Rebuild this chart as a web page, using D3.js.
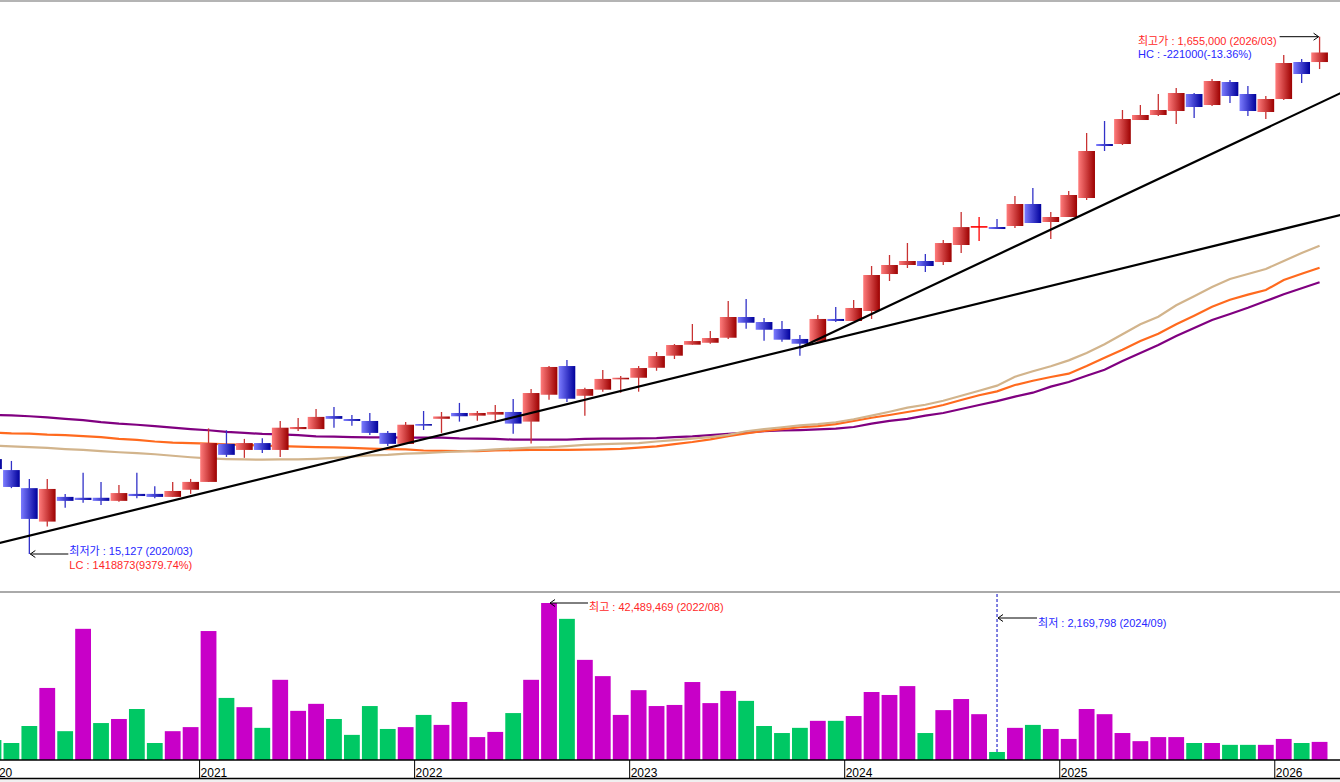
<!DOCTYPE html>
<html>
<head>
<meta charset="utf-8">
<script src="https://cdn.jsdelivr.net/npm/d3@7"></script>
<style>
	body { margin: 0; background: #ffffff; }
	svg { display: block; font-family: "Liberation Sans", "Noto Sans CJK KR", sans-serif; }
</style>
</head>
<body>
<svg id="chart" width="1340" height="782"></svg>
<script>

// monthly candles, 2020/01 - 2026/03
var startYear = 2020;
var nMonths = 75;

var open = [
	35800, 32400, 27500, 20300, 25400, 25200, 25200, 24500, 26100, 26100, 25400, 27100,
	29100, 41100, 38900, 41400, 38900, 47000, 47000, 52900, 51500, 50600, 45400, 41100,
	49200, 51600, 54400, 53100, 53600, 54900, 50300, 64200, 83300, 63600, 67200, 74100,
	74900, 82000, 91500, 101100, 102900, 107700, 130000, 124200, 116600, 106500, 103900, 127700,
	125400, 137300, 192000, 208400, 216100, 214100, 249900, 294500, 294200, 296900, 362500, 307900,
	322200, 382800, 624900, 624900, 777000, 813100, 843100, 983800, 890300, 1097000, 983800, 835500,
	940200, 1315300, 1315000];

var high = [
	38200, 35200, 29900, 29900, 26100, 31600, 29100, 28300, 31600, 28000, 29100, 29900,
	47300, 46500, 43000, 43300, 50600, 52000, 56400, 57400, 53400, 54400, 46200, 50100,
	55400, 54900, 59600, 55400, 58500, 61800, 67600, 83300, 88000, 68400, 80400, 76100,
	83300, 94600, 101700, 122000, 114500, 150300, 153100, 128800, 125400, 110400, 132400, 142300,
	151700, 206500, 228200, 254400, 230300, 261500, 337100, 322200, 316400, 389800, 419200, 337100,
	407900, 690500, 770000, 850800, 890300, 983800, 1038900, 992800, 1127300, 1117100, 1057900, 966100,
	1401600, 1351600, 1655000];

var low = [
	31800, 27500, 15127, 19400, 23000, 24100, 23600, 24300, 25100, 25100, 25400, 26100,
	29100, 36500, 36200, 37800, 36500, 46200, 47000, 47600, 48500, 44500, 40300, 41100,
	46600, 45400, 50300, 50700, 50700, 45100, 41200, 61400, 60100, 53100, 66000, 65400,
	66000, 79800, 88800, 101100, 102000, 106500, 116900, 104800, 103900, 91500, 103900, 124200,
	125400, 127700, 180200, 202800, 195600, 208400, 232400, 259100, 288900, 291600, 305100, 263900,
	322200, 375900, 586500, 619300, 777000, 805700, 749300, 791200, 882300, 906600, 805700, 784100,
	931700, 1087100, 1234000];

var close = [
	32700, 27800, 20800, 27300, 24500, 24700, 24500, 26300, 25600, 25400, 26800, 29100,
	41400, 37200, 41400, 38900, 47600, 47900, 52500, 51600, 50600, 45400, 41100, 48900,
	48500, 52700, 52800, 54400, 54900, 49400, 65200, 82600, 61900, 67600, 74100, 74900,
	81800, 91200, 100800, 104500, 107400, 130000, 123400, 115800, 105800, 102000, 127700, 125400,
	141100, 190300, 208400, 216100, 206500, 254400, 294000, 294500, 288900, 362500, 305100, 322200,
	393400, 586500, 613700, 784100, 813100, 850800, 992800, 874300, 1107000, 966100, 843100, 940200,
	1303500, 1179600, 1434000];

var volume = [
	5400000, 4600000, 9200000, 19500000, 7800000, 35500000, 10000000, 11100000, 13800000, 4600000, 7800000, 8900000,
	34900000, 16800000, 14300000, 8700000, 21700000, 13300000, 15200000, 11100000, 6800000, 14600000, 8400000, 8900000,
	12200000, 9500000, 15700000, 6200000, 7600000, 12700000, 21700000, 42489469, 38200000, 27100000, 22700000, 12200000,
	18900000, 14600000, 14900000, 21100000, 15400000, 18700000, 16000000, 9200000, 7300000, 8700000, 10600000, 10600000,
	11900000, 18400000, 17600000, 20000000, 7300000, 13500000, 16500000, 12400000, 2169798, 8700000, 9500000, 8400000,
	5700000, 13800000, 12400000, 7300000, 5100000, 6200000, 6200000, 4600000, 4600000, 4100000, 4100000, 4100000,
	5700000, 4600000, 4900000];

// moving averages (long / middle / short)
var maLong = [
	53400, 53200, 52800, 52300, 51600, 51000, 50100, 49400, 48900, 48300, 47600, 47000,
	46500, 45800, 45400, 45000, 44800, 44500, 44000, 43900, 43700, 43600, 43600, 43500,
	43500, 43500, 43200, 43100, 43000, 42700, 42700, 42700, 42700, 43000, 43100, 43100,
	43200, 43300, 43700, 44000, 44500, 45000, 45500, 46100, 46400, 46600, 46900, 47200,
	47900, 49400, 50600, 51600, 53100, 54400, 56400, 58500, 60600, 63100, 65400, 69100,
	72100, 76300, 80600, 87200, 93800, 100800, 109400, 117600, 126500, 133600, 141400, 150300,
	159700, 168700, 178100];

var maMid = [
	45600, 45200, 45100, 44700, 44500, 44100, 43700, 43000, 42600, 42000, 41600, 41400,
	41200, 40900, 40700, 40500, 40300, 40100, 39900, 39800, 39600, 39400, 39200, 39100,
	38700, 38600, 38500, 38500, 38700, 38800, 38900, 38900, 38900, 39000, 39100, 39300,
	39700, 40200, 41000, 41800, 42800, 44100, 45200, 46200, 47000, 47800, 48300, 49200,
	50600, 52100, 53400, 54900, 56400, 58500, 61200, 63900, 66200, 70100, 72900, 75400,
	77700, 83300, 89800, 96600, 104500, 111700, 121700, 131500, 142700, 152100, 159200, 166100,
	181900, 192600, 203300];

var maShort = [
	40500, 40200, 39900, 39600, 39200, 38900, 38500, 38100, 37800, 37400, 36900, 36400,
	36000, 35800, 35700, 35600, 35700, 35700, 35900, 36200, 36600, 37000, 37200, 37600,
	37800, 38100, 38400, 38700, 39100, 39400, 39700, 39900, 40300, 40700, 41000, 41200,
	41400, 42000, 42500, 43100, 43700, 44600, 46100, 47000, 47800, 48600, 49200, 50000,
	51400, 53100, 55000, 57100, 58600, 60800, 63600, 66600, 69700, 75600, 79400, 83100,
	87700, 93800, 101500, 111100, 121700, 130300, 144600, 156900, 170700, 183500, 192000, 201000,
	216100, 232400, 248300];

// trend lines: [month index, price] pairs
var trendLong = [[0, 16500], [74, 313200]];
var trendShort = [[45, 98300], [74, 906600]];

var years = [2020, 2021, 2022, 2023, 2024, 2025, 2026];


var months = d3.range(nMonths).map(function(i) {
	return (startYear + Math.floor(i / 12)) + "/" + d3.format("02")(i % 12 + 1);
});

var x = d3.scaleBand()
			.domain(months)
			.range([-15.46, 1328.54])
			.padding(0);

var bw = x.bandwidth();

function cx(i) { return x(months[i]) + bw / 2; }

var y = d3.scaleLog()
			.domain([d3.min(low), d3.max(high)])
			.range([554, 36.7]);

var yVol = d3.scaleLinear()
			.domain([0, d3.max(volume)])
			.range([760, 603]);

var svg = d3.select("#chart");

var defs = svg.append("defs");

function addGradient(id, c0, c1) {
	var g = defs.append("linearGradient")
				.attr("id", id)
				.attr("x1", "0%").attr("x2", "100%")
				.attr("y1", "0%").attr("y2", "0%");
	g.append("stop").attr("offset", "0%").attr("stop-color", c0);
	g.append("stop").attr("offset", "100%").attr("stop-color", c1);
}

addGradient("upGrad", "#ff7c7c", "#9c0000");
addGradient("downGrad", "#7c7cff", "#00009c");

defs.append("clipPath").attr("id", "priceClip")
	.append("rect").attr("x", 0).attr("y", 2).attr("width", 1340).attr("height", 589);

// panel borders
svg.append("line")
	.attr("x1", 0).attr("x2", 1340).attr("y1", 1).attr("y2", 1)
	.style("stroke", "#b4b4b4").style("stroke-width", 2);

svg.append("line")
	.attr("x1", 0).attr("x2", 1340).attr("y1", 592).attr("y2", 592)
	.style("stroke", "#aaaaaa").style("stroke-width", 2);

var price = svg.append("g").attr("clip-path", "url(#priceClip)");


// moving averages, drawn behind the candles
var maLine = d3.line()
				.x(function(d, i) { return cx(i); })
				.y(function(d) { return y(d); });

[[maLong, "#800080"], [maMid, "#ff6a1e"], [maShort, "#d2b48c"]].forEach(function(m) {
	price.append("path")
		.datum(m[0])
		.attr("d", maLine)
		.style("fill", "none")
		.style("stroke", m[1])
		.style("stroke-width", 2.2);
});


// candles
var candles = d3.range(nMonths).map(function(i) {
	return { i: i, o: open[i], h: high[i], l: low[i], c: close[i] };
});

var candle = price.append("g")
				.selectAll("g")
				.data(candles)
				.enter().append("g");

candle.append("line")
	.attr("x1", function(d) { return cx(d.i); })
	.attr("x2", function(d) { return cx(d.i); })
	.attr("y1", function(d) { return y(d.h); })
	.attr("y2", function(d) { return y(d.l); })
	.style("stroke", function(d) {
		if (d.o === d.c) return "#ff0000";
		return d.c > d.o ? "#c83232" : "#3232c8"; })
	.style("stroke-width", 1.3);

var bodyW = 16.7;

candle.filter(function(d) { return d.o !== d.c; })
	.append("rect")
	.attr("x", function(d) { return cx(d.i) - bodyW / 2; })
	.attr("width", bodyW)
	.attr("y", function(d) { return y(Math.max(d.o, d.c)); })
	.attr("height", function(d) {
		return Math.max(1.6, Math.abs(y(d.o) - y(d.c))); })
	.style("fill", function(d) {
		return d.c > d.o ? "url(#upGrad)" : "url(#downGrad)"; });

candle.filter(function(d) { return d.o === d.c; })
	.append("line")
	.attr("x1", function(d) { return cx(d.i) - bodyW / 2; })
	.attr("x2", function(d) { return cx(d.i) + bodyW / 2; })
	.attr("y1", function(d) { return y(d.c); })
	.attr("y2", function(d) { return y(d.c); })
	.style("stroke", "#ff0000")
	.style("stroke-width", 1.6);


// trend lines, extended to the right edge
function trendPath(t, mFrom, mTo) {
	var lp0 = Math.log(t[0][1]), lp1 = Math.log(t[1][1]);
	var slope = (lp1 - lp0) / (t[1][0] - t[0][0]);
	function at(m) { return Math.exp(lp0 + (m - t[0][0]) * slope); }
	return [[mFrom, at(mFrom)], [mTo, at(mTo)]];
}

var trendLine = d3.line()
					.x(function(d) { return x(months[0]) + bw / 2 + d[0] * bw; })
					.y(function(d) { return y(d[1]); });

price.append("path")
	.datum(trendPath(trendLong, -1, 76))
	.attr("d", trendLine)
	.style("fill", "none").style("stroke", "#000").style("stroke-width", 2.2);

price.append("path")
	.datum(trendPath(trendShort, trendShort[0][0], 76))
	.attr("d", trendLine)
	.style("fill", "none").style("stroke", "#000").style("stroke-width", 2.2);


// arrows
function arrow(g, x1, x2, yy) {
	var dir = x2 < x1 ? 1 : -1;
	g.append("line")
		.attr("x1", x1).attr("x2", x2).attr("y1", yy).attr("y2", yy)
		.style("stroke", "#000").style("stroke-width", 1);
	g.append("path")
		.attr("d", "M" + (x2 + dir * 5) + "," + (yy - 3.5) + "L" + x2 + "," + yy +
				"L" + (x2 + dir * 5) + "," + (yy + 3.5))
		.style("fill", "none").style("stroke", "#000").style("stroke-width", 1);
}

// percent with two decimals, rounded away from zero like the HTS does
function pct(v) {
	var a = Math.ceil(Math.abs(v) * 10000) / 100;
	return (v < 0 ? "-" : "") + a.toFixed(2) + "%";
}

var iLow = low.indexOf(d3.min(low));
var iHigh = high.indexOf(d3.max(high));
var fmt = d3.format(",");
var lastClose = close[nMonths - 1];

// lowest price note
arrow(svg, cx(iLow) + 39, cx(iLow) + 1, y(low[iLow]));

svg.append("text")
	.attr("x", cx(iLow) + 40).attr("y", y(low[iLow]) + 1)
	.style("font-size", "11px").style("fill", "#2828ff")
	.text("최저가 : " + fmt(low[iLow]) + " (" + months[iLow] + ")");

svg.append("text")
	.attr("x", cx(iLow) + 40).attr("y", y(low[iLow]) + 15)
	.style("font-size", "11px").style("fill", "#ff2828")
	.text("LC : " + String(lastClose - low[iLow]) + "(" +
		pct((lastClose - low[iLow]) / low[iLow]) + ")");

// highest price note
arrow(svg, cx(iHigh) - 40, cx(iHigh) - 1, y(high[iHigh]));

var hiText = svg.append("text")
	.attr("x", cx(iHigh) - 43).attr("y", y(high[iHigh]) + 8)
	.attr("text-anchor", "end")
	.style("font-size", "11px").style("fill", "#ff2828")
	.text("최고가 : " + fmt(high[iHigh]) + " (" + months[iHigh] + ")");

var hiLeft = hiText.node().getBBox().x;

svg.append("text")
	.attr("x", hiLeft).attr("y", y(high[iHigh]) + 21)
	.style("font-size", "11px").style("fill", "#2828ff")
	.text("HC : " + String(lastClose - high[iHigh]) + "(" +
		pct((lastClose - high[iHigh]) / high[iHigh]) + ")");


// volume
var vol = svg.append("g");

vol.selectAll("rect")
	.data(volume)
	.enter().append("rect")
	.attr("x", function(d, i) { return cx(i) - 7.9; })
	.attr("width", 15.8)
	.attr("y", function(d) { return yVol(d); })
	.attr("height", function(d) { return yVol(0) - yVol(d); })
	.style("fill", function(d, i) {
		var prev = i > 0 ? close[i - 1] : open[i];
		return close[i] > prev ? "#c800c8" : "#00c864"; });

var iVmax = volume.indexOf(d3.max(volume));
var iVmin = volume.indexOf(d3.min(volume));

arrow(vol, cx(iVmax) + 39, cx(iVmax) + 1, yVol(volume[iVmax]));

vol.append("text")
	.attr("x", cx(iVmax) + 40).attr("y", yVol(volume[iVmax]) + 8)
	.style("font-size", "11px").style("fill", "#ff2828")
	.text("최고 : " + fmt(volume[iVmax]) + " (" + months[iVmax] + ")");

vol.append("line")
	.attr("x1", cx(iVmin)).attr("x2", cx(iVmin))
	.attr("y1", 594).attr("y2", yVol(volume[iVmin]))
	.style("stroke", "#0000c0").style("stroke-width", 1)
	.style("stroke-dasharray", "3,2");

arrow(vol, cx(iVmin) + 40, cx(iVmin) + 1, 618);

vol.append("text")
	.attr("x", cx(iVmin) + 41).attr("y", 627)
	.style("font-size", "11px").style("fill", "#2828ff")
	.text("최저 : " + fmt(volume[iVmin]) + " (" + months[iVmin] + ")");


// time axis
svg.append("rect")
	.attr("x", 0).attr("y", 779).attr("width", 1340).attr("height", 3)
	.style("fill", "#f0f0f0");

svg.append("line")
	.attr("x1", 0).attr("x2", 1340).attr("y1", 760).attr("y2", 760)
	.style("stroke", "#000").style("stroke-width", 1.5);

svg.append("line")
	.attr("x1", 0).attr("x2", 1340).attr("y1", 778.5).attr("y2", 778.5)
	.style("stroke", "#000").style("stroke-width", 1.5);

var tick = svg.append("g")
			.selectAll("g")
			.data(years)
			.enter().append("g")
			.attr("transform", function(d) {
				return "translate(" + x(d + "/01") + ",0)"; });

tick.append("line")
	.attr("y1", 760).attr("y2", 778)
	.style("stroke", "#000").style("stroke-width", 1);

// the 2020 label sits left of the view and is cut off, as in the original
tick.append("text")
	.attr("x", 1).attr("y", 776.5)
	.style("font-family", "'Liberation Sans Narrow', 'Liberation Sans', sans-serif")
	.style("font-size", "12px").style("fill", "#000")
	.text(function(d) { return d; });

</script>
</body>
</html>
